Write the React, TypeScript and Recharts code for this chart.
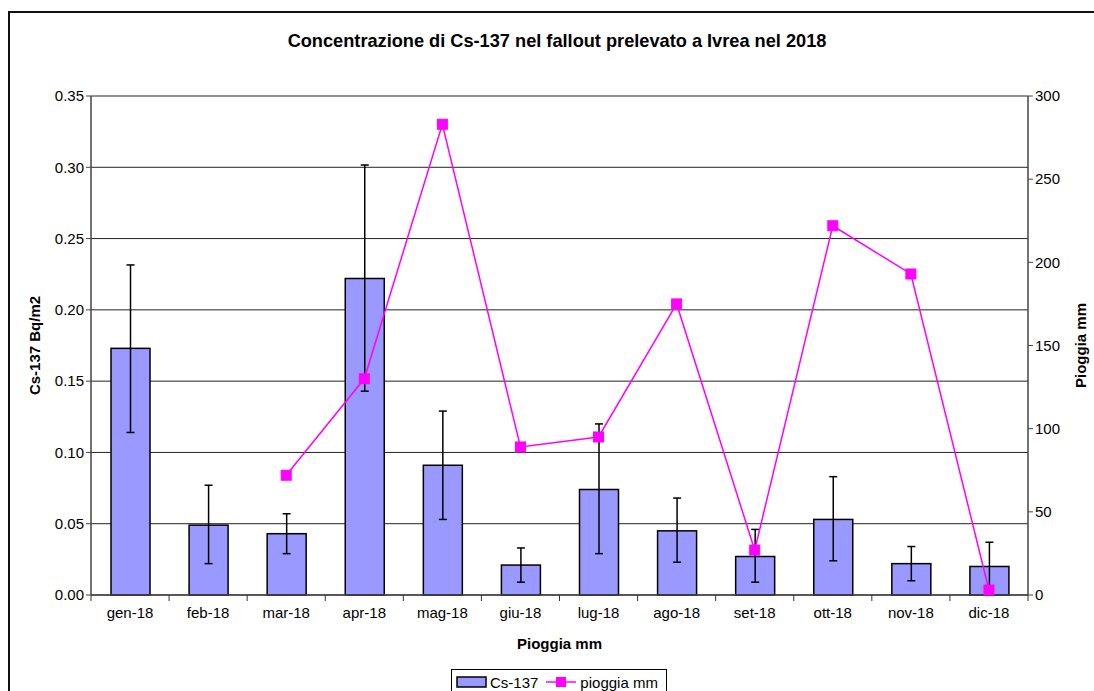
import React from 'react';
import {
  ComposedChart, Bar, Line, XAxis, YAxis, CartesianGrid, Legend,
} from 'recharts';

const months = ['gen-18', 'feb-18', 'mar-18', 'apr-18', 'mag-18', 'giu-18', 'lug-18', 'ago-18', 'set-18', 'ott-18', 'nov-18', 'dic-18'];
const cs137 = [0.173, 0.049, 0.043, 0.222, 0.091, 0.021, 0.074, 0.045, 0.027, 0.053, 0.022, 0.020];
const csLow = [0.114, 0.022, 0.029, 0.143, 0.053, 0.009, 0.029, 0.023, 0.009, 0.024, 0.010, 0.003];
const csHigh = [0.2315, 0.077, 0.057, 0.3016, 0.129, 0.033, 0.120, 0.068, 0.046, 0.083, 0.034, 0.037];
const rain: (number | null)[] = [null, null, 72, 130, 283, 89, 95, 175, 27, 222, 193, 3];
const leftTicks = [0, 0.05, 0.1, 0.15, 0.2, 0.25, 0.3, 0.35];
const rightTicks = [0, 50, 100, 150, 200, 250, 300];

const data = months.map((m, i) => ({
  month: m,
  cs: cs137[i],
  lo: csLow[i],
  hi: csHigh[i],
  rain: rain[i],
}));

const W = 1094;
const H = 691;
const PLOT_LEFT = 91;
const PLOT_RIGHT = 1028;
const PLOT_TOP = 96;
const PLOT_BOTTOM = 595;
const XAXIS_H = 30;
const FONT = 'Arial, "Liberation Sans", sans-serif';
const BAND = (PLOT_RIGHT - PLOT_LEFT) / months.length;

const XTick = (props: any) => {
  const { x, y, payload, index } = props;
  return (
    <g>
      <line x1={x - BAND / 2} y1={y - 8} x2={x - BAND / 2} y2={y - 2} stroke="#333" strokeWidth={1} />
      {index === months.length - 1 && (
        <line x1={x + BAND / 2} y1={y - 8} x2={x + BAND / 2} y2={y - 2} stroke="#333" strokeWidth={1} />
      )}
      <text x={x} y={y + 15} textAnchor="middle" fontSize={15} fontFamily={FONT} fill="#000">
        {payload.value}
      </text>
    </g>
  );
};

// Bar rectangle plus its asymmetric error bar, scaled from the bar's own pixel height
const BarWithError = (props: any) => {
  const { x, y, width, height, payload } = props;
  if (x == null || y == null || !payload) return null;
  const base = y + height;
  const k = payload.cs ? height / payload.cs : 0;
  const cx = x + width / 2;
  const yHi = base - payload.hi * k;
  const yLo = base - payload.lo * k;
  return (
    <g>
      <rect x={x} y={y} width={width} height={height} fill="#9999FF" stroke="#000" strokeWidth={1.5} />
      <line x1={cx} y1={yHi} x2={cx} y2={yLo} stroke="#000" strokeWidth={1.5} />
      <line x1={cx - 4} y1={yHi} x2={cx + 4} y2={yHi} stroke="#000" strokeWidth={1.5} />
      <line x1={cx - 4} y1={yLo} x2={cx + 4} y2={yLo} stroke="#000" strokeWidth={1.5} />
    </g>
  );
};

const SquareDot = (props: any) => {
  const { cx, cy, payload } = props;
  if (payload == null || payload.rain == null || cx == null || cy == null) return null;
  return <rect x={cx - 5} y={cy - 5} width={10} height={10} fill="#FF00FF" stroke="#FF00FF" />;
};

const LegendContent = (props: any) => {
  const items = props.payload || [];
  return (
    <div
      style={{
        border: '1px solid #000',
        background: '#fff',
        display: 'flex',
        alignItems: 'center',
        padding: '0 4px',
        height: 26,
        width: 216,
        fontFamily: FONT,
        fontSize: 15,
        color: '#000',
        boxSizing: 'border-box',
        whiteSpace: 'nowrap',
      }}
    >
      {items.map((it: any) => (
        <div key={it.value} style={{ display: 'flex', alignItems: 'center', marginRight: 8, flexShrink: 0 }}>
          {it.type === 'rect' ? (
            <svg width={31} height={14} style={{ marginRight: 3 }}>
              <rect x={1} y={2} width={29} height={10} fill="#9999FF" stroke="#000" strokeWidth={1.5} />
            </svg>
          ) : (
            <svg width={30} height={14} style={{ marginRight: 4 }}>
              <line x1={0} y1={7} x2={30} y2={7} stroke="#FF00FF" strokeWidth={1.5} />
              <rect x={10} y={2} width={10} height={10} fill="#FF00FF" />
            </svg>
          )}
          <span>{it.value}</span>
        </div>
      ))}
    </div>
  );
};

const LeftLabel = (props: any) => {
  const { viewBox } = props;
  const cy = viewBox.y + viewBox.height / 2;
  return (
    <text x={34} y={cy} transform={`rotate(-90 34 ${cy})`} textAnchor="middle" dominantBaseline="central"
      fontSize={15} fontWeight="bold" fontFamily={FONT} fill="#000">
      Cs-137 Bq/m2
    </text>
  );
};

const RightLabel = (props: any) => {
  const { viewBox } = props;
  const cy = viewBox.y + viewBox.height / 2;
  const lx = 1080;
  return (
    <text x={lx} y={cy} transform={`rotate(-90 ${lx} ${cy})`} textAnchor="middle" dominantBaseline="central"
      fontSize={15} fontWeight="bold" fontFamily={FONT} fill="#000">
      Pioggia mm
    </text>
  );
};

export default function App() {
  return (
    <div style={{ position: 'absolute', left: 0, top: 0, width: W, height: H, overflow: 'hidden', background: '#fff' }}>
      <div
        style={{
          position: 'absolute', left: 8, top: 11, width: 1200, height: 800,
          border: '2px solid #111', boxSizing: 'border-box',
        }}
      />
      <div
        style={{
          position: 'absolute', left: 0, top: 31, width: 1114, textAlign: 'center',
          fontFamily: FONT, fontWeight: 'bold', fontSize: 18.2, color: '#000',
        }}
      >
        Concentrazione di Cs-137 nel fallout prelevato a Ivrea nel 2018
      </div>
      <div style={{ position: 'absolute', left: 0, top: 0 }}>
        <ComposedChart
          width={W}
          height={H}
          data={data}
          margin={{ top: PLOT_TOP, right: 0, bottom: H - PLOT_BOTTOM - XAXIS_H, left: 0 }}
        >
          <CartesianGrid vertical={false} stroke="#222" strokeWidth={1} yAxisId="left" />
          <XAxis
            dataKey="month"
            height={XAXIS_H}
            tick={<XTick />}
            tickLine={false}
            axisLine={{ stroke: '#444', strokeWidth: 1.5 }}
            interval={0}
            label={{ value: 'Pioggia mm', position: 'insideBottom', offset: -24, fontSize: 15, fontWeight: 'bold', fontFamily: FONT, fill: '#000' }}
          />
          <YAxis
            yAxisId="left"
            orientation="left"
            width={PLOT_LEFT}
            domain={[0, 0.35]}
            ticks={leftTicks}
            interval={0}
            tickFormatter={(v: number) => v.toFixed(2)}
            tick={{ fontSize: 15, fontFamily: FONT, fill: '#000' }}
            tickLine={{ stroke: '#444' }}
            tickSize={5}
            axisLine={{ stroke: '#444', strokeWidth: 1.5 }}
            label={<LeftLabel />}
          />
          <YAxis
            yAxisId="right"
            orientation="right"
            width={W - PLOT_RIGHT}
            domain={[0, 300]}
            ticks={rightTicks}
            interval={0}
            tick={{ fontSize: 15, fontFamily: FONT, fill: '#000' }}
            tickLine={{ stroke: '#444' }}
            tickSize={5}
            axisLine={{ stroke: '#444', strokeWidth: 1.5 }}
            label={<RightLabel />}
          />
          <Legend
            verticalAlign="middle"
            align="center"
            layout="horizontal"
            content={<LegendContent />}
            wrapperStyle={{ left: 451, top: 669, width: 216, height: 26 }}
          />
          <Bar
            yAxisId="left"
            dataKey="cs"
            name="Cs-137"
            fill="#9999FF"
            stroke="#000"
            strokeWidth={1.5}
            barSize={39}
            legendType="rect"
            shape={<BarWithError />}
            isAnimationActive={false}
          />
          <Line
            yAxisId="right"
            dataKey="rain"
            name="pioggia mm"
            stroke="#FF00FF"
            strokeWidth={1.5}
            dot={<SquareDot />}
            activeDot={false}
            legendType="line"
            connectNulls={false}
            isAnimationActive={false}
          />
        </ComposedChart>
      </div>
    </div>
  );
}
